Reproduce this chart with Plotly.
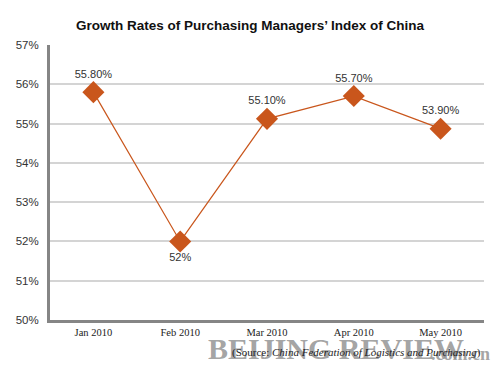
import plotly.graph_objects as go

months = ["Jan 2010", "Feb 2010", "Mar 2010", "Apr 2010", "May 2010"]
pmi_plotted = [55.80, 52.00, 55.12, 55.70, 54.87]
pmi_labels = ["55.80%", "52%", "55.10%", "55.70%", "53.90%"]
label_pos = ["top center", "bottom center", "top center", "top center", "top center"]
y_ticks = [50, 51, 52, 53, 54, 55, 56, 57]
y_tick_text = ["50%", "51%", "52%", "53%", "54%", "55%", "56%", "57%"]

orange = "#C9561C"

# The page body has an 8px default margin on every side, so the figure is sized to fit inside it
W, H = 484, 359
L, R, T, B = 39, 8, 37, 47
pw, ph = W - L - R, H - T - B


def px_x(x):
    return (x - 8 - L) / pw


def px_y(y):
    return ((H - B) - (y - 8)) / ph


fig = go.Figure()
fig.add_trace(go.Scatter(
    x=months, y=pmi_plotted, mode="lines+markers+text",
    line=dict(color=orange, width=1.2),
    marker=dict(symbol="diamond", size=17, color=orange),
    text=pmi_labels, textposition=label_pos,
    textfont=dict(family="Liberation Sans, Arial", size=11, color="#333333"),
    cliponaxis=False, showlegend=False,
))

fig.update_layout(
    width=W, height=H,
    margin=dict(l=L, r=R, t=T, b=B),
    paper_bgcolor="white", plot_bgcolor="white",
    title=dict(text="<b>Growth Rates of Purchasing Managers’ Index of China</b>",
               x=(250 - 8) / W, xref="container", y=1 - 17 / H, yref="container",
               xanchor="center", yanchor="middle",
               font=dict(family="Liberation Sans, Arial", size=13.5, color="#111111")),
    xaxis=dict(type="category", range=[-0.5, 4.5], showgrid=False,
               showline=True, linecolor="#858585", linewidth=3,
               ticks="", tickfont=dict(family="Liberation Serif, Times New Roman", size=10.5, color="#222222"),
               zeroline=False),
    yaxis=dict(range=[50, 57], tickvals=y_ticks, ticktext=y_tick_text,
               showgrid=True, gridcolor="#d4d4d4", gridwidth=2,
               showline=True, linecolor="#858585", linewidth=3,
               ticks="", ticklabelstandoff=6,
               tickfont=dict(family="Liberation Sans, Arial", size=11.5, color="#333333"),
               zeroline=False),
)

fig.add_annotation(text="<b>BEIJING REVIEW</b>", x=px_x(335), y=px_y(348), xref="paper", yref="paper",
                   showarrow=False, xanchor="center", yanchor="middle",
                   font=dict(family="Liberation Serif, Times New Roman", size=30, color="rgba(140,140,140,0.8)"))
fig.add_annotation(text="<b>.com.cn</b>", x=px_x(492), y=px_y(354), xref="paper", yref="paper",
                   showarrow=False, xanchor="right", yanchor="middle",
                   font=dict(family="Liberation Serif, Times New Roman", size=18, color="rgba(140,140,140,0.8)"))
fig.add_annotation(text="(Source: <i>China Federation of Logistics and Purchasing</i>)",
                   x=px_x(483), y=px_y(352), xref="paper", yref="paper", showarrow=False,
                   xanchor="right", yanchor="middle",
                   font=dict(family="Liberation Serif, Times New Roman", size=11, color="#222222"))

fig.write_html("out.html")
